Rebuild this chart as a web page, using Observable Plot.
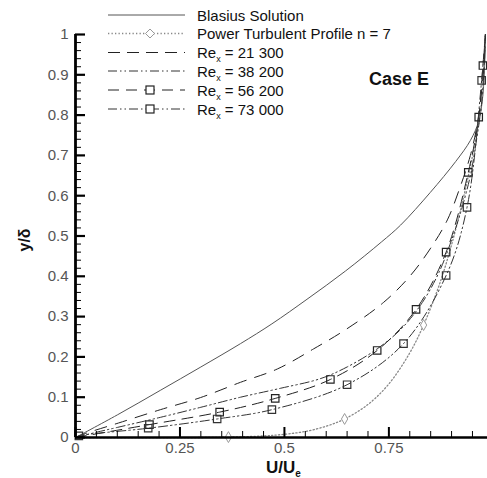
<!DOCTYPE html>
<html>
<head>
<meta charset="utf-8">
<script src="https://cdn.jsdelivr.net/npm/d3@7"></script>
<script src="https://cdn.jsdelivr.net/npm/@observablehq/plot@0.6"></script>
<style>
  html, body { margin: 0; padding: 0; background: #fff; }
  svg { display: block; }
</style>
</head>
<body>
<div id="chart"></div>
<script>
// ---- data (U/Ue, y/delta) ----
const uBlasius = [0, 0.1, 0.203, 0.3, 0.395, 0.47, 0.554, 0.646, 0.732, 0.778, 0.849, 0.91, 0.945, 0.965, 0.975, 0.979, 0.981];
const yBlasius = [0, 0.056, 0.117, 0.175, 0.233, 0.282, 0.343, 0.413, 0.485, 0.527, 0.608, 0.685, 0.737, 0.785, 0.85, 0.92, 1.0];

const uPower = [0, 0.3, 0.366, 0.45, 0.5, 0.55, 0.6, 0.644, 0.7, 0.75, 0.8, 0.833, 0.87, 0.9, 0.93, 0.95, 0.965, 0.975, 0.981];
const yPower = [0, 0, 0.001, 0.004, 0.008, 0.015, 0.028, 0.046, 0.082, 0.133, 0.21, 0.279, 0.377, 0.478, 0.602, 0.698, 0.78, 0.86, 1.0];
const powerMarkerIdx = [2, 7, 11];

const u21300 = [0, 0.024, 0.103, 0.203, 0.299, 0.395, 0.483, 0.57, 0.65, 0.737, 0.80, 0.85, 0.89, 0.92, 0.945, 0.962, 0.972, 0.978, 0.981];
const y21300 = [0, 0.01, 0.036, 0.069, 0.099, 0.137, 0.17, 0.22, 0.27, 0.335, 0.40, 0.47, 0.54, 0.62, 0.70, 0.78, 0.86, 0.93, 1.0];

const u38200 = [0, 0.05, 0.1, 0.203, 0.3, 0.395, 0.49, 0.586, 0.65, 0.722, 0.78, 0.83, 0.87, 0.9, 0.925, 0.945, 0.96, 0.972, 0.978, 0.981];
const y38200 = [0, 0.013, 0.025, 0.05, 0.075, 0.10, 0.122, 0.146, 0.175, 0.22, 0.27, 0.335, 0.41, 0.49, 0.57, 0.65, 0.74, 0.83, 0.92, 1.0];

const u56200 = [0, 0.177, 0.345, 0.478, 0.61, 0.722, 0.815, 0.887, 0.94, 0.965, 0.975, 0.981];
const y56200 = [0, 0.032, 0.063, 0.097, 0.144, 0.216, 0.318, 0.46, 0.658, 0.795, 0.923, 1.0];

const u73000 = [0, 0.008, 0.174, 0.339, 0.47, 0.65, 0.785, 0.887, 0.937, 0.972, 0.981];
const y73000 = [0, 0.004, 0.023, 0.046, 0.069, 0.131, 0.233, 0.402, 0.571, 0.886, 1.0];

const xMajorTicks = [0, 0.25, 0.5, 0.75];
const xTickLabels = ["0", "0.25", "0.5", "0.75"];
const xMinorTicks = d3.range(0, 0.9501, 0.05).filter(v => Math.abs(v / 0.25 - Math.round(v / 0.25)) > 1e-6);
const yMajorTicks = d3.range(0, 1.0001, 0.1).map(v => +v.toFixed(2));
const yTickLabels = ["0", "0.1", "0.2", "0.3", "0.4", "0.5", "0.6", "0.7", "0.8", "0.9", "1"];
const yMinorTicks = d3.range(0, 1.0001, 0.02).map(v => +v.toFixed(2)).filter(v => Math.abs(v * 10 - Math.round(v * 10)) > 1e-6);

const legendLabels = ["Blasius Solution", "Power Turbulent Profile n = 7", "21 300", "38 200", "56 200", "73 000"];

// ---- build tables ----
const toRows = (u, y) => u.map((d, i) => ({u: d, y: y[i]}));
const blasius = toRows(uBlasius, yBlasius);
const power = toRows(uPower, yPower);
const r21 = toRows(u21300, y21300);
const r38 = toRows(u38200, y38200);
const r56 = toRows(u56200, y56200);
const r73 = toRows(u73000, y73000);
const powerMarks = powerMarkerIdx.map(i => power[i]);
const inner = rows => rows.slice(1, rows.length - 1);

const W = 487, H = 478;
const xMax = 0.986;
const font = "'Liberation Sans', Arial, Helvetica, sans-serif";
const dashDot = "9,3,1.5,3,1.5,3";

const xLen = px => px / (W - 75) * xMax;   // pixel length -> x units (ticks)
const yLen = px => px / (437 - 34);        // pixel length -> y units

const plot = Plot.plot({
  width: W,
  height: H,
  marginLeft: 75,
  marginRight: 0,
  marginTop: 34,
  marginBottom: 41,
  style: {fontFamily: font, background: "white"},
  x: {domain: [0, xMax], axis: null},
  y: {domain: [0, 1], axis: null},
  marks: [
    // data curves
    Plot.line(blasius, {x: "u", y: "y", stroke: "#555", strokeWidth: 1, curve: "catmull-rom"}),
    Plot.line(power, {x: "u", y: "y", stroke: "#888", strokeWidth: 1.3, strokeDasharray: "1.3,2.2", curve: "catmull-rom"}),
    Plot.dot(powerMarks, {x: "u", y: "y", symbol: "diamond", r: 3.3, stroke: "#999", strokeWidth: 1, fill: "white"}),
    Plot.line(r21, {x: "u", y: "y", stroke: "#222", strokeWidth: 1, strokeDasharray: "12,9", curve: "catmull-rom"}),
    Plot.line(r38, {x: "u", y: "y", stroke: "#333", strokeWidth: 1, strokeDasharray: dashDot, curve: "catmull-rom"}),
    Plot.line(r56, {x: "u", y: "y", stroke: "#222", strokeWidth: 1, strokeDasharray: "11,7", curve: "catmull-rom"}),
    Plot.line(r73, {x: "u", y: "y", stroke: "#333", strokeWidth: 1, strokeDasharray: dashDot, curve: "catmull-rom"}),
    Plot.dot(inner(r56), {x: "u", y: "y", symbol: "square", r: 4.2, stroke: "#222", strokeWidth: 1.2, fill: "none"}),
    Plot.dot(inner(r73), {x: "u", y: "y", symbol: "square", r: 4.2, stroke: "#333", strokeWidth: 1.2, fill: "none"}),
    // axes lines
    Plot.ruleX([0], {y1: 0, y2: 1, stroke: "black", strokeWidth: 2.8}),
    Plot.ruleY([0], {x1: 0, x2: xMax, stroke: "black", strokeWidth: 2.6}),
    // ticks (inward)
    Plot.ruleY(yMajorTicks, {y: d => d, x1: 0, x2: xLen(10), stroke: "black", strokeWidth: 2.2}),
    Plot.ruleY(yMinorTicks, {y: d => d, x1: 0, x2: xLen(6), stroke: "black", strokeWidth: 1}),
    Plot.ruleX(xMajorTicks, {x: d => d, y1: 0, y2: yLen(10), stroke: "black", strokeWidth: 2}),
    Plot.ruleX(xMinorTicks, {x: d => d, y1: 0, y2: yLen(6), stroke: "black", strokeWidth: 1}),
    // tick labels
    Plot.text(yMajorTicks, {x: 0, y: d => d, text: (d, i) => yTickLabels[i], textAnchor: "end", dx: -7, fontSize: 15, fill: "#555"}),
    Plot.text(xMajorTicks, {x: d => d, y: 0, text: (d, i) => xTickLabels[i], lineAnchor: "top", dy: 5, fontSize: 15, fill: "#555"})
  ]
});

document.getElementById("chart").appendChild(plot);

// ---- labels and legend overlaid on the plot SVG ----
const svg = d3.select(plot);
const g = svg.append("g").attr("font-family", font).attr("text-anchor", "start");

// y axis title
g.append("text")
  .attr("transform", "translate(30,240) rotate(-90)")
  .attr("text-anchor", "middle")
  .attr("font-size", 16).attr("font-weight", "bold").attr("fill", "#111")
  .text("y/δ");

// x axis title
const xt = g.append("text").attr("x", 266).attr("y", 473)
  .attr("text-anchor", "start")
  .attr("font-size", 17).attr("font-weight", "bold").attr("fill", "#111");
xt.append("tspan").text("U/U");
xt.append("tspan").attr("dy", 4).attr("font-size", 10).text("e");

// Case E
g.append("text").attr("x", 369).attr("y", 85)
  .attr("text-anchor", "start")
  .attr("font-size", 18).attr("font-weight", "bold").attr("fill", "#111")
  .text("Case E");

// legend
const legendStyles = [
  {stroke: "#555", dash: null, width: 1, marker: null},
  {stroke: "#888", dash: "1.3,2.2", width: 1.3, marker: "diamond"},
  {stroke: "#222", dash: "12,7", width: 1, marker: null},
  {stroke: "#333", dash: dashDot, width: 1, marker: null},
  {stroke: "#222", dash: "11,7", width: 1, marker: "square"},
  {stroke: "#333", dash: dashDot, width: 1, marker: "square"}
];
const rowY = [15, 33.5, 52.5, 71, 90, 109];
legendStyles.forEach((s, i) => {
  const yy = rowY[i];
  const row = g.append("g");
  row.append("line").attr("x1", 108).attr("x2", 185).attr("y1", yy).attr("y2", yy)
    .attr("stroke", s.stroke).attr("stroke-width", s.width)
    .attr("stroke-dasharray", s.dash);
  if (s.marker === "square") {
    row.append("rect").attr("x", 150 - 4).attr("y", yy - 4).attr("width", 8).attr("height", 8)
      .attr("fill", "white").attr("stroke", "#222").attr("stroke-width", 1.2);
  } else if (s.marker === "diamond") {
    row.append("path").attr("d", `M150,${yy - 4.5}L154.5,${yy}L150,${yy + 4.5}L145.5,${yy}Z`)
      .attr("fill", "white").attr("stroke", "#999").attr("stroke-width", 1);
  }
  const t = row.append("text").attr("x", 197).attr("y", yy + 5.5)
    .attr("text-anchor", "start")
    .attr("font-size", 15).attr("fill", "#111");
  if (i < 2) {
    t.text(legendLabels[i]);
  } else {
    t.append("tspan").text("Re");
    t.append("tspan").attr("dy", 4).attr("font-size", 9).text("x");
    t.append("tspan").attr("dy", -4).text(" = " + legendLabels[i]);
  }
});
</script>
</body>
</html>
